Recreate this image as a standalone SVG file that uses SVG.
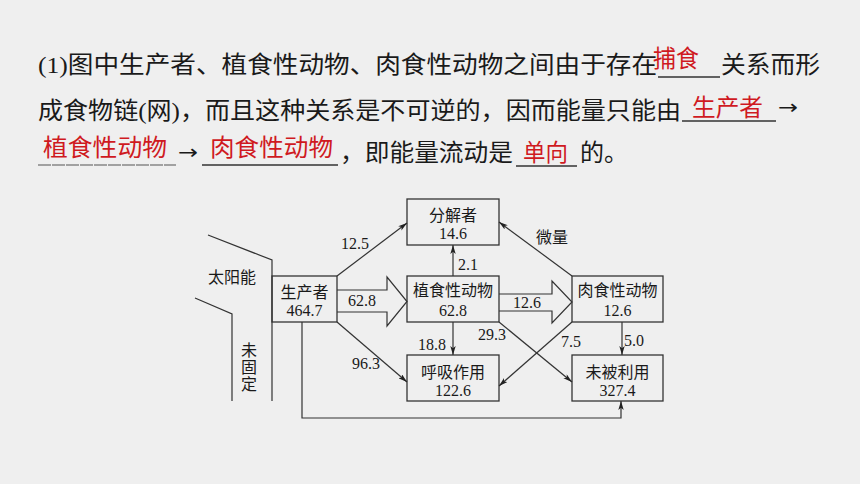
<svg xmlns="http://www.w3.org/2000/svg" width="860" height="484" viewBox="0 0 860 484">
<defs>
<marker id="ah" viewBox="0 0 10 6" refX="10" refY="3" markerWidth="9" markerHeight="5.4" markerUnits="userSpaceOnUse" orient="auto">
<path d="M0,0 L10,3 L0,6 L2.5,3 z" fill="#222"/>
</marker>
<style>
.t{font-family:"Liberation Serif","Noto Sans CJK SC",serif;font-size:24px;fill:#1a1a1a}
.r{font-family:"Liberation Serif","Noto Sans CJK SC",serif;font-size:24px;fill:#cf1a1f}
.ar{font-family:"DejaVu Sans",sans-serif;font-size:20px;fill:#1a1a1a}
.ul{stroke:#333;stroke-width:1.3}
.box{fill:none;stroke:#333;stroke-width:1.3}
.n{font-family:"Liberation Serif","Noto Sans CJK SC",serif;font-size:16px;fill:#1a1a1a;text-anchor:middle}
.c{fill:none;stroke:#333;stroke-width:1.2}
.ca{fill:none;stroke:#333;stroke-width:1.2;marker-end:url(#ah)}
</style>
</defs>
<rect width="860" height="484" fill="#efefef"/>

<g id="question">
<text class="t" x="38" y="73" textLength="619" lengthAdjust="spacingAndGlyphs">(1)图中生产者、植食性动物、肉食性动物之间由于存在</text>
<text class="r" x="653" y="67" textLength="46" lengthAdjust="spacingAndGlyphs">捕食</text>
<line class="ul" x1="658" y1="77" x2="720" y2="77"/>
<text class="t" x="721" y="73" textLength="99" lengthAdjust="spacingAndGlyphs">关系而形</text>

<text class="t" x="38" y="119" textLength="643" lengthAdjust="spacingAndGlyphs">成食物链(网)，而且这种关系是不可逆的，因而能量只能由</text>
<line class="ul" x1="682" y1="121" x2="776" y2="121"/>
<text class="r" x="692" y="116" textLength="71" lengthAdjust="spacingAndGlyphs">生产者</text>
<text class="ar" x="778" y="114" textLength="20" lengthAdjust="spacingAndGlyphs">→</text>

<text class="r" x="43" y="156" textLength="124" lengthAdjust="spacingAndGlyphs">植食性动物</text>
<line x1="38" y1="165" x2="176" y2="165" stroke="#555" stroke-width="1.2" stroke-dasharray="13 1"/>
<text class="ar" x="178" y="159" textLength="20" lengthAdjust="spacingAndGlyphs">→</text>
<text class="r" x="210" y="156" textLength="123" lengthAdjust="spacingAndGlyphs">肉食性动物</text>
<line class="ul" x1="202" y1="165" x2="338" y2="165"/>
<text class="t" x="340" y="161" textLength="173" lengthAdjust="spacingAndGlyphs">，即能量流动是</text>
<line class="ul" x1="516" y1="166" x2="577" y2="166"/>
<text class="r" x="523" y="161" textLength="45" lengthAdjust="spacingAndGlyphs">单向</text>
<text class="t" x="580" y="161" textLength="48" lengthAdjust="spacingAndGlyphs">的。</text>
</g>

<g id="sunlight">
<polyline class="c" points="208,235 272,260 272,401"/>
<polyline class="c" points="195,298 232,314 232,401"/>
<text class="n" x="232" y="283">太阳能</text>
<text class="n" x="249" y="356">未</text>
<text class="n" x="249" y="373">固</text>
<text class="n" x="249" y="390">定</text>
</g>

<g id="producer">
<rect class="box" x="272" y="276" width="65" height="46"/>
<text class="n" x="304.5" y="298">生产者</text>
<text class="n" x="304.5" y="316">464.7</text>
</g>

<g id="decomposer">
<rect class="box" x="407" y="199" width="92" height="46"/>
<text class="n" x="453" y="221">分解者</text>
<text class="n" x="453" y="239">14.6</text>
</g>

<g id="herbivore">
<rect class="box" x="407" y="276" width="92" height="46"/>
<text class="n" x="453" y="296">植食性动物</text>
<text class="n" x="453" y="316">62.8</text>
</g>

<g id="respiration">
<rect class="box" x="407" y="355" width="92" height="46"/>
<text class="n" x="453" y="378">呼吸作用</text>
<text class="n" x="453" y="396">122.6</text>
</g>

<g id="carnivore">
<rect class="box" x="572" y="276" width="91" height="46"/>
<text class="n" x="617.5" y="296">肉食性动物</text>
<text class="n" x="617.5" y="316">12.6</text>
</g>

<g id="unused">
<rect class="box" x="572" y="355" width="91" height="46"/>
<text class="n" x="617.5" y="378">未被利用</text>
<text class="n" x="617.5" y="396">327.4</text>
</g>

<g id="connectors">
<path d="M337,290 H387 V277 L407,301.5 L387,326 V312 H337" fill="none" stroke="#333" stroke-width="1.2"/>
<path d="M499,294 H552 V281 L572,302 L552,323 V311 H499" fill="none" stroke="#333" stroke-width="1.2"/>
<line class="ca" x1="337" y1="276" x2="407" y2="223"/>
<line class="ca" x1="337" y1="322" x2="407" y2="382"/>
<line class="ca" x1="572" y1="276" x2="499" y2="222"/>
<line class="ca" x1="499" y1="322" x2="572" y2="382"/>
<line class="ca" x1="572" y1="322" x2="499" y2="386"/>
<line class="ca" x1="453" y1="276" x2="453" y2="245"/>
<line class="ca" x1="453" y1="322" x2="453" y2="355"/>
<line class="ca" x1="622" y1="322" x2="622" y2="355"/>
<polyline class="ca" points="302,322 302,418 621,418 621,401"/>
<text class="n" x="355" y="249">12.5</text>
<text class="n" x="362" y="306">62.8</text>
<text class="n" x="366" y="369">96.3</text>
<text class="n" x="432" y="350">18.8</text>
<text class="n" x="468" y="270">2.1</text>
<text class="n" x="527" y="308">12.6</text>
<text class="n" x="492" y="340">29.3</text>
<text class="n" x="571" y="347">7.5</text>
<text class="n" x="634" y="346">5.0</text>
<text class="n" x="552" y="243">微量</text>
</g>
</svg>
